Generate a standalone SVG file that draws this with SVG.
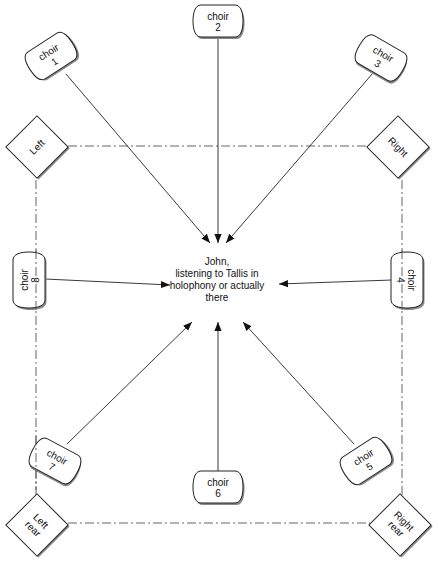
<svg xmlns="http://www.w3.org/2000/svg" width="438" height="562" viewBox="0 0 438 562">
<style>
text{font-family:"Liberation Sans",Arial,sans-serif;font-size:10px;fill:#111;text-anchor:middle}
.shape{fill:#fff;stroke:#222;stroke-width:1}
.shadow{fill:#888;stroke:none}
.conn{stroke:#222;stroke-width:0.9;fill:none;marker-end:url(#ah)}
.frame{stroke:#555;stroke-width:0.9;fill:none;stroke-dasharray:9,3,2,3}
</style>
<defs>
<marker id="ah" viewBox="0 0 10 10" refX="10" refY="5" markerWidth="9" markerHeight="9" orient="auto" markerUnits="userSpaceOnUse">
<path d="M0,1 L10,5 L0,9 z" fill="#111"/>
</marker>
<path id="choir" d="M-17,-16 H17 C23,-16 25,-8 25,0 C25,8 23,16 17,16 H-17 C-23,16 -25,8 -25,0 C-25,-8 -23,-16 -17,-16 Z"/>
<path id="choirw" d="M-20,-16 H20 C26,-16 28,-8 28,0 C28,8 26,16 20,16 H-20 C-26,16 -28,8 -28,0 C-28,-8 -26,-16 -20,-16 Z"/>
<rect id="dia" x="-22" y="-22" width="44" height="44"/>
</defs>

<g id="frame">
<path class="frame" d="M68,146 H367 M36,180 V495 M402,180 V495 M68,523 H370"/>
</g>

<g id="connectors">
<line class="conn" x1="218" y1="37" x2="218" y2="243"/>
<line class="conn" x1="66" y1="74" x2="210" y2="243"/>
<line class="conn" x1="373" y1="73" x2="226" y2="243"/>
<line class="conn" x1="45" y1="279" x2="170" y2="285"/>
<line class="conn" x1="392" y1="280" x2="279" y2="284"/>
<line class="conn" x1="218" y1="472" x2="218" y2="322"/>
<line class="conn" x1="67" y1="444" x2="192" y2="322"/>
<line class="conn" x1="354" y1="444" x2="243" y2="322"/>
</g>

<g id="choir2" transform="translate(218,21)">
<use href="#choir" class="shadow" x="1.5" y="2"/>
<use href="#choir" class="shape"/>
<text y="-1">choir</text><text y="10">2</text>
</g>
<g id="choir1" transform="translate(51,56) rotate(-33)">
<use href="#choir" class="shadow" x="1.5" y="2"/>
<use href="#choir" class="shape"/>
<text y="-1">choir</text><text y="10">1</text>
</g>
<g id="choir3" transform="translate(381,58) rotate(30)">
<use href="#choir" class="shadow" x="1.5" y="2"/>
<use href="#choir" class="shape"/>
<text y="-1">choir</text><text y="10">3</text>
</g>
<g id="choir8" transform="translate(29,280) rotate(-90)">
<use href="#choirw" class="shadow" x="-2" y="1.5"/>
<use href="#choirw" class="shape"/>
<text y="-1">choir</text><text y="10">8</text>
</g>
<g id="choir4" transform="translate(407,280) rotate(90)">
<use href="#choirw" class="shadow" x="2" y="-1.5"/>
<use href="#choirw" class="shape"/>
<text y="-1">choir</text><text y="10">4</text>
</g>
<g id="choir7" transform="translate(55,461) rotate(28)">
<use href="#choir" class="shadow" x="1.5" y="2"/>
<use href="#choir" class="shape"/>
<text y="-1">choir</text><text y="10">7</text>
</g>
<g id="choir5" transform="translate(366,461) rotate(-33)">
<use href="#choir" class="shadow" x="1.5" y="2"/>
<use href="#choir" class="shape"/>
<text y="-1">choir</text><text y="10">5</text>
</g>
<g id="choir6" transform="translate(218,487)">
<use href="#choir" class="shadow" x="1.5" y="2"/>
<use href="#choir" class="shape"/>
<text y="-1">choir</text><text y="10">6</text>
</g>

<g id="frame-over">
<path class="frame" d="M36,250 V310 M36,436 V490 M402,250 V310"/>
</g>

<g id="left" transform="translate(37,147)">
<use href="#dia" class="shadow" transform="translate(1.5,1.5) rotate(45)"/>
<use href="#dia" class="shape" transform="rotate(45)"/>
<text transform="rotate(-45)" y="3.5">Left</text>
</g>
<g id="right" transform="translate(398,147)">
<use href="#dia" class="shadow" transform="translate(1.5,1.5) rotate(45)"/>
<use href="#dia" class="shape" transform="rotate(45)"/>
<text transform="rotate(45)" y="3.5">Right</text>
</g>
<g id="leftrear" transform="translate(37,525)">
<use href="#dia" class="shadow" transform="translate(1.5,1.5) rotate(45)"/>
<use href="#dia" class="shape" transform="rotate(45)"/>
<text transform="rotate(45)"><tspan x="0" y="-2">Left</tspan><tspan x="0" y="9">rear</tspan></text>
</g>
<g id="rightrear" transform="translate(400,525)">
<use href="#dia" class="shadow" transform="translate(1.5,1.5) rotate(45)"/>
<use href="#dia" class="shape" transform="rotate(45)"/>
<text transform="rotate(45)"><tspan x="0" y="-2">Right</tspan><tspan x="0" y="9">rear</tspan></text>
</g>

<g id="john">
<text x="217" y="265">John,</text>
<text x="217" y="277">listening to Tallis in</text>
<text x="217" y="289">holophony or actually</text>
<text x="217" y="301">there</text>
</g>
</svg>
